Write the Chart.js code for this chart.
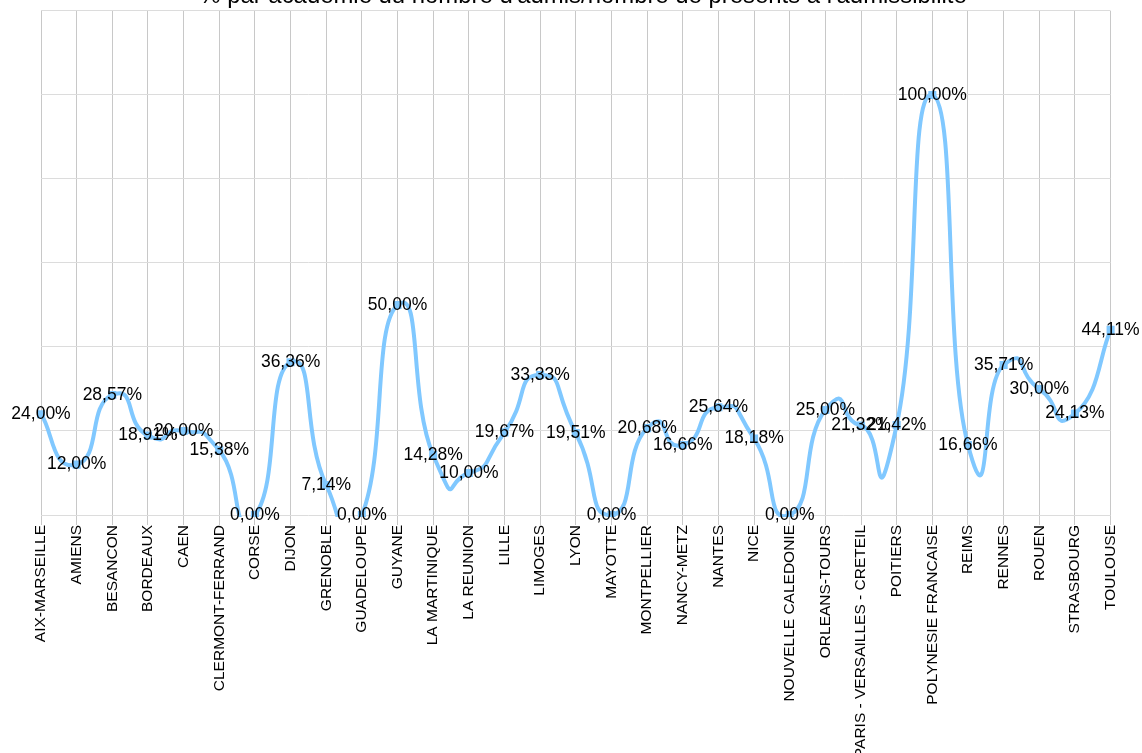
<!DOCTYPE html>
<html>
<head>
<meta charset="utf-8">
<script src="https://cdn.jsdelivr.net/npm/chart.js@4.4.1/dist/chart.umd.min.js"></script>
<style>
  html, body { margin: 0; padding: 0; background: #ffffff; overflow: hidden; }
  #wrap { position: relative; width: 1142px; height: 753px; }
</style>
</head>
<body>
<div id="wrap"><canvas id="chart"></canvas></div>
<script>
// Académies (x categories)
const academies = [
  'AIX-MARSEILLE', 'AMIENS', 'BESANCON', 'BORDEAUX', 'CAEN', 'CLERMONT-FERRAND',
  'CORSE', 'DIJON', 'GRENOBLE', 'GUADELOUPE', 'GUYANE', 'LA MARTINIQUE',
  'LA REUNION', 'LILLE', 'LIMOGES', 'LYON', 'MAYOTTE', 'MONTPELLIER',
  'NANCY-METZ', 'NANTES', 'NICE', 'NOUVELLE CALEDONIE', 'ORLEANS-TOURS',
  'PARIS - VERSAILLES - CRETEIL', 'POITIERS', 'POLYNESIE FRANCAISE', 'REIMS',
  'RENNES', 'ROUEN', 'STRASBOURG', 'TOULOUSE'
];

// Admis / présents à l'admissibilité, en %
const rates = [
  24.00, 12.00, 28.57, 18.91, 20.00, 15.38,
  0.00, 36.36, 7.14, 0.00, 50.00, 14.28,
  10.00, 19.67, 33.33, 19.51, 0.00, 20.68,
  16.66, 25.64, 18.18, 0.00, 25.00,
  21.32, 21.42, 100.00, 16.66,
  35.71, 30.00, 24.13, 44.11
];

const yMin = 0;
const yMax = 120;
const yStep = 20;

const titleText = "% par académie du nombre d'admis/nombre de présents à l'admissibilité";

const FONT = '"Liberation Sans", Arial, Helvetica, sans-serif';
const LINE_COLOR = '#80c8ff';

function formatPct(v) {
  return v.toFixed(2).replace('.', ',') + '%';
}

// Uniform Catmull-Rom style smoothing (spreadsheet-like curve that may
// overshoot between points); replaces the library's distance-weighted spline.
const SMOOTH = 0.35;
const uniformSpline = {
  id: 'uniformSpline',
  beforeDatasetDraw(chart, args) {
    const meta = args.meta;
    const line = meta.dataset;
    if (!line) return;
    line.updateControlPoints(chart.chartArea, meta.iScale.axis);
    const pts = meta.data;
    const n = pts.length;
    for (let i = 0; i < n; i++) {
      const p = pts[i];
      const prev = pts[Math.max(i - 1, 0)];
      const next = pts[Math.min(i + 1, n - 1)];
      const dx = (next.x - prev.x) * SMOOTH;
      const dy = (next.y - prev.y) * SMOOTH;
      p.cp1x = p.x - dx; p.cp1y = p.y - dy;
      p.cp2x = p.x + dx; p.cp2y = p.y + dy;
    }
  }
};

// Value label centred on each point
const valueLabels = {
  id: 'valueLabels',
  afterDatasetsDraw(chart) {
    const ctx = chart.ctx;
    const meta = chart.getDatasetMeta(0);
    const values = chart.data.datasets[0].data;
    ctx.save();
    ctx.font = '17.5px ' + FONT;
    ctx.fillStyle = '#000000';
    ctx.textAlign = 'center';
    ctx.textBaseline = 'middle';
    meta.data.forEach((pt, i) => {
      ctx.fillText(formatPct(values[i]), pt.x, pt.y);
    });
    ctx.restore();
  }
};

new Chart(document.getElementById('chart'), {
  type: 'line',
  data: {
    labels: academies,
    datasets: [{
      data: rates,
      borderColor: LINE_COLOR,
      backgroundColor: LINE_COLOR,
      borderWidth: 4,
      borderJoinStyle: 'round',
      tension: 0.4,
      fill: false,
      pointStyle: 'rect',
      pointRadius: 5.7,
      pointBorderWidth: 0,
      pointBackgroundColor: LINE_COLOR,
      clip: { left: 6, right: 6, top: 6, bottom: 2 }
    }]
  },
  options: {
    responsive: true,
    maintainAspectRatio: false,
    devicePixelRatio: 1,
    animation: false,
    events: [],
    layout: { padding: { left: 24, right: 0, top: 0, bottom: 0 } },
    plugins: {
      legend: { display: false },
      tooltip: { enabled: false },
      title: {
        display: true,
        text: titleText,
        color: '#000000',
        font: { family: FONT, size: 23.9, weight: 'normal' },
        padding: { top: -17.8, bottom: 0.1 }
      }
    },
    scales: {
      x: {
        offset: false,
        ticks: {
          autoSkip: false,
          minRotation: 90,
          maxRotation: 90,
          padding: 0,
          color: '#000000',
          font: { family: FONT, size: 15.5 }
        },
        grid: { color: '#c8c8c8', lineWidth: 1, tickLength: 10, offset: false },
        border: { display: false },
        afterFit(scale) { scale.height = 238; }
      },
      y: {
        position: 'left',
        min: yMin,
        max: yMax,
        ticks: { display: false, stepSize: yStep },
        grid: { color: '#dcdcdc', lineWidth: 1, drawTicks: false },
        border: { display: false },
        afterFit(scale) { scale.width = 17; }
      },
      yRight: {
        axis: 'y',
        position: 'right',
        display: true,
        ticks: { display: false },
        grid: { display: false, drawTicks: false },
        border: { display: false },
        afterFit(scale) { scale.width = 31.4; }
      }
    }
  },
  plugins: [uniformSpline, valueLabels]
});
</script>
</body>
</html>
